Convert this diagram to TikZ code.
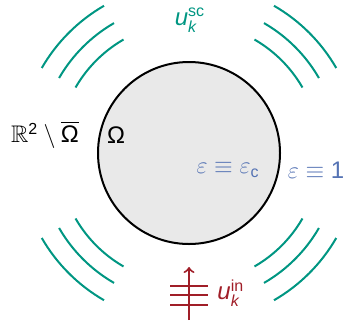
\documentclass[tikz,border=0pt]{standalone}
\usepackage{amsmath}
\usepackage{amssymb}
\usepackage{fontspec}
\setmainfont{Liberation Sans}
\usetikzlibrary{positioning}
\definecolor{wavegreen}{RGB}{0,150,130}
\definecolor{incred}{RGB}{160,30,40}
\definecolor{epsblue}{RGB}{85,115,180}
\newcommand{\sfit}[1]{\text{\itshape #1}}

\begin{document}
\begin{tikzpicture}[
        x=0.5pt, y=0.5pt,
        % Style pour l'obstacle
        obstacle/.style={
            circle,
            draw=black,
            line width=1pt,
            minimum size=182pt*0.5,
            fill=gray!17
        },
        % Style pour les ondes diffractees
        scatwave/.style={
            draw=wavegreen,
            line width=1pt
        },
        % Style pour l'onde incidente
        incwave/.style={
            draw=incred,
            line width=1pt
        },
        % Style pour les etiquettes
        lbl/.style={
            font=\large,
            inner sep=0pt
        }
    ]

    \useasboundingbox (0,0) rectangle (346,322);

    % Obstacle central
    \node[obstacle] (Om) at (189,169) {};

    % Ondes diffractees (4 quadrants)
    \foreach \a in {30,120,210,300} {
        \foreach \r in {131,150,170} {
            \draw[scatwave] (Om.center) ++(\a:\r) arc (\a:\a+30:\r);
        }
    }

    % Etiquettes
    \node[lbl, wavegreen] (usc) at (190,302) {$\sfit{u}_{\sfit{k}}^{\text{sc}}$};
    \node[lbl] (ext) at (45,187) {$\mathbb{R}^{\text{2}}\setminus\overline{\text{Ω}}$};
    \node[lbl] (int) at (116,187) {Ω};
    \node[lbl, epsblue] (epsc) at (228,152) {$\varepsilon\equiv\varepsilon_{\text{c}}$};
    \node[lbl, epsblue] (eps1) at (316,152) {$\varepsilon\equiv\text{1}$};

    % Onde incidente
    \coordinate (inA) at (189,2);
    \coordinate (inB) at (189,55);
    \draw[incwave, ->] (inA) -- (inB);
    \foreach \y in {17,27,36} {
        \draw[incwave] (170,\y) -- (208,\y);
    }
    \node[lbl, incred, anchor=west] (uin) at (217,29) {$\sfit{u}_{\sfit{k}}^{\text{in}}$};

\end{tikzpicture}
\end{document}
